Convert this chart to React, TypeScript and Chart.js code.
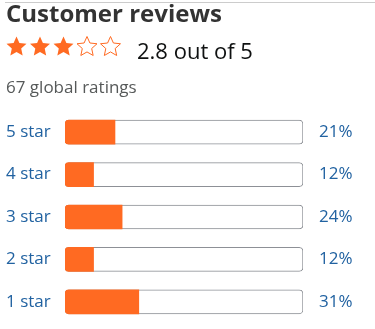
import React, { useEffect, useRef } from "react";
import { Chart, registerables } from "chart.js";

Chart.register(...registerables);

// Rating breakdown
const starLabels = ["5 star", "4 star", "3 star", "2 star", "1 star"];
const sharePercent = [21, 12, 24, 12, 31];
const percentLabels = ["21%", "12%", "24%", "12%", "31%"];
const averageRating = 2.8;
const maxRating = 5;
const totalRatings = 67;

const FONT = "'Open Sans', 'Noto Sans', sans-serif";
const ORANGE = "#ff6a22";
const LINK_BLUE = "#2162a1";
const TRACK_BORDER = "#8d9096";

// Draws the row of rating stars in the header area of the canvas
function starPath(ctx: CanvasRenderingContext2D, cx: number, cy: number, R: number) {
  const r = R * 0.47;
  ctx.beginPath();
  for (let i = 0; i < 10; i++) {
    const rad = i % 2 === 0 ? R : r;
    const a = -Math.PI / 2 + (i * Math.PI) / 5;
    const x = cx + rad * Math.cos(a);
    const y = cy + rad * Math.sin(a);
    if (i === 0) ctx.moveTo(x, y);
    else ctx.lineTo(x, y);
  }
  ctx.closePath();
}

const ratingStars = {
  id: "ratingStars",
  afterDraw(chart: Chart) {
    const ctx = chart.ctx;
    const filled = Math.round(averageRating);
    ctx.save();
    for (let i = 0; i < maxRating; i++) {
      const cx = 16.5 + i * 23.5;
      const cy = 47;
      starPath(ctx, cx, cy, 10.5);
      if (i < filled) {
        ctx.fillStyle = ORANGE;
        ctx.fill();
      } else {
        ctx.fillStyle = "#ffffff";
        ctx.fill();
        ctx.lineWidth = 1;
        ctx.strokeStyle = ORANGE;
        ctx.stroke();
      }
    }
    ctx.restore();
  },
};

// Keep tick-label half heights from pushing the plot area inward
function fixAxis(width: number) {
  return (scale: any) => {
    scale.width = width;
    scale.paddingTop = 0;
    scale.paddingBottom = 0;
  };
}

export default function App() {
  const canvasRef = useRef<HTMLCanvasElement | null>(null);

  useEffect(() => {
    if (!canvasRef.current) return;
    const chart = new Chart(canvasRef.current, {
      type: "bar",
      data: {
        labels: starLabels,
        datasets: [
          {
            data: sharePercent,
            backgroundColor: ORANGE,
            borderWidth: 0,
            borderRadius: { topLeft: 4, bottomLeft: 4, topRight: 0, bottomRight: 0 },
            borderSkipped: false,
            barThickness: 24,
            grouped: false,
          },
          {
            data: starLabels.map(() => 100),
            backgroundColor: "#ffffff",
            borderColor: TRACK_BORDER,
            borderWidth: 1,
            borderRadius: 4,
            borderSkipped: false,
            barThickness: 24,
            grouped: false,
          },
        ],
      },
      options: {
        indexAxis: "y",
        animation: false,
        responsive: false,
        maintainAspectRatio: false,
        layout: { padding: { top: 111, bottom: 6, left: 6, right: 0 } },
        plugins: { legend: { display: false }, tooltip: { enabled: false } },
        scales: {
          x: { display: false, min: 0, max: 100 },
          y: {
            position: "left",
            grid: { display: false, drawTicks: false },
            border: { display: false },
            ticks: {
              crossAlign: "far",
              padding: 0,
              color: LINK_BLUE,
              font: { family: FONT, size: 17 },
            },
            afterFit: fixAxis(59),
          },
          y2: {
            type: "category",
            position: "right",
            labels: percentLabels,
            offset: true,
            grid: { display: false, drawTicks: false },
            border: { display: false },
            ticks: {
              padding: 16,
              color: LINK_BLUE,
              font: { family: FONT, size: 17 },
            },
            afterFit: fixAxis(72),
          },
        },
      },
      plugins: [ratingStars],
    } as any);
    return () => chart.destroy();
  }, []);

  return (
    <div style={{ position: "absolute", left: 0, top: 0, width: 375, height: 329, background: "#fff", fontFamily: FONT }}>
      <canvas ref={canvasRef} width={375} height={329} style={{ position: "absolute", left: 0, top: 0 }} />
      <div style={{ position: "absolute", left: 5, top: 2, width: 370, height: 1, background: "#cccccc" }} />
      <span style={{ position: "absolute", left: 6, top: 1, fontSize: 24, lineHeight: "24px", fontWeight: 700, color: "#333333", whiteSpace: "nowrap" }}>
        Customer reviews
      </span>
      <span style={{ position: "absolute", left: 137, top: 39, fontSize: 22, lineHeight: "22px", color: "#0f1111", whiteSpace: "nowrap" }}>
        {averageRating} out of {maxRating}
      </span>
      <span style={{ position: "absolute", left: 6, top: 78, fontSize: 17, lineHeight: "17px", color: "#565959", whiteSpace: "nowrap" }}>
        {totalRatings} global ratings
      </span>
    </div>
  );
}
